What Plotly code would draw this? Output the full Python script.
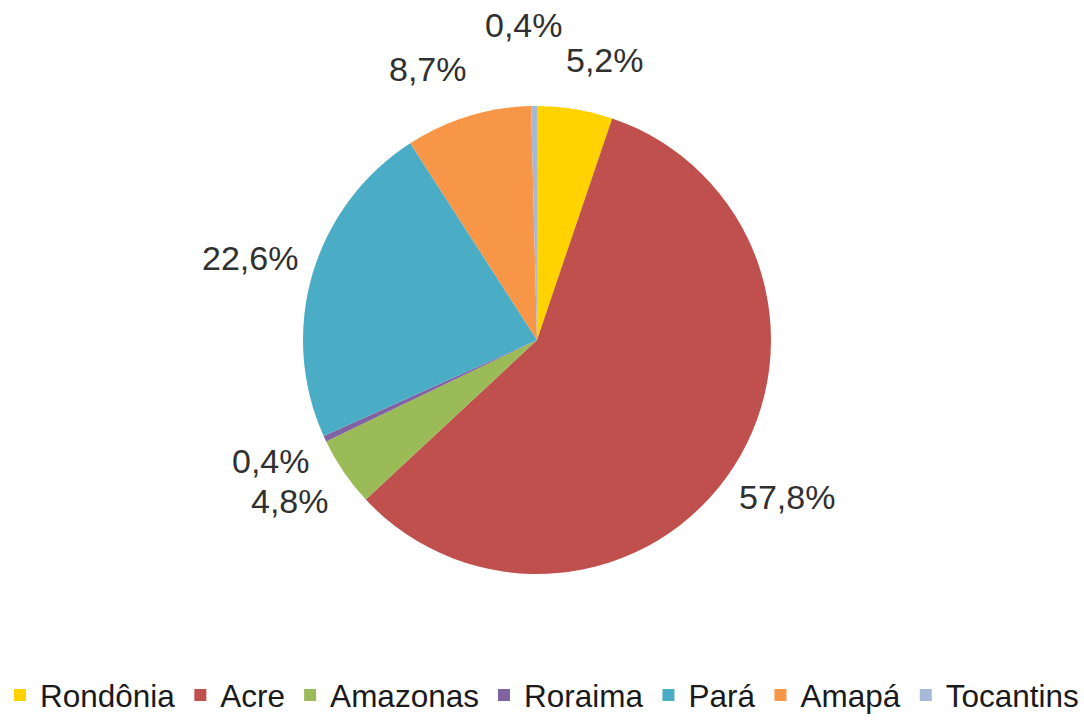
import plotly.graph_objects as go

# states and their share (%)
states = ["Rondônia", "Acre", "Amazonas", "Roraima", "Pará", "Amapá", "Tocantins"]
shares = [5.2, 57.8, 4.8, 0.4, 22.6, 8.7, 0.4]
colors = ["#FFD200", "#C0504D", "#9BBB59", "#8064A2", "#4BACC6", "#F79646", "#A5B8D6"]

# where each percentage label sits (paper px from top-left), same order as states
label_px = [(605, 60), (787, 497), (290, 501), (271, 461), (250, 258), (428, 69), (524, 25)]

W, H = 1084, 722
FONT = "Liberation Sans, Arial"

fig = go.Figure()
fig.add_trace(
    go.Pie(
        labels=states,
        values=shares,
        sort=False,
        direction="clockwise",
        rotation=0,
        marker=dict(colors=colors, line=dict(width=0)),
        textinfo="none",
        hoverinfo="label+value",
        domain=dict(x=[(537 - 234) / W, (537 + 234) / W], y=[1 - (340 + 236) / H, 1 - (340 - 236) / H]),
    )
)

# percentage labels, comma decimal as in the original
for s, (px, py) in zip(shares, label_px):
    fig.add_annotation(
        text=f"{s:.1f}%".replace(".", ","),
        x=px / W,
        y=1 - py / H,
        xref="paper",
        yref="paper",
        xanchor="center",
        yanchor="middle",
        showarrow=False,
        font=dict(family=FONT, size=34, color="#303030"),
    )

fig.update_layout(
    width=W,
    height=H,
    separators=",.",
    margin=dict(l=0, r=0, t=0, b=0),
    paper_bgcolor="white",
    plot_bgcolor="white",
    font=dict(family=FONT, color="black"),
    showlegend=True,
    legend=dict(
        orientation="h",
        x=0.5,
        xanchor="center",
        y=0.0,
        yanchor="bottom",
        font=dict(size=31.5, color="#1a1a1a"),
        itemclick=False,
    ),
)

fig.write_html(
    "out.html",
    config={"displayModeBar": False},
    post_script="document.body.style.margin='0';",
)
